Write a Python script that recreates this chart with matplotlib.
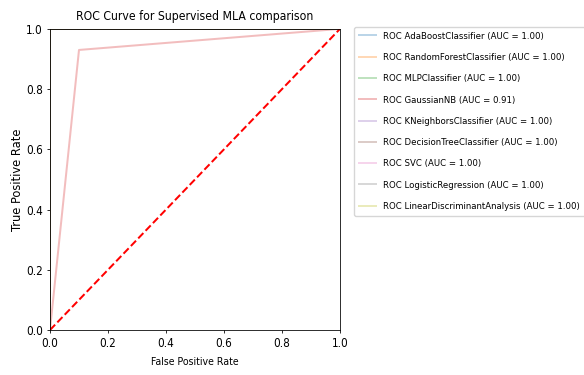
import matplotlib
matplotlib.use('Agg')
import matplotlib.pyplot as plt

# reference looks like a small default figure, squeezed sideways
plt.rcParams['font.family'] = ['DejaVu Sans']
plt.rcParams['font.stretch'] = 'condensed'
plt.rcParams['font.size'] = 7.5
plt.rcParams['axes.linewidth'] = 0.58
plt.rcParams['xtick.major.size'] = 2.5
plt.rcParams['ytick.major.size'] = 2.5
plt.rcParams['xtick.major.width'] = 0.58
plt.rcParams['ytick.major.width'] = 0.58

# ROC data per model
models = ['AdaBoostClassifier', 'RandomForestClassifier', 'MLPClassifier', 'GaussianNB',
          'KNeighborsClassifier', 'DecisionTreeClassifier', 'SVC', 'LogisticRegression',
          'LinearDiscriminantAnalysis']
aucs = [1.00, 1.00, 1.00, 0.91, 1.00, 1.00, 1.00, 1.00, 1.00]
fprs = [[0, 0, 1], [0, 0, 1], [0, 0, 1], [0, 0.10, 1], [0, 0, 1],
        [0, 0, 1], [0, 0, 1], [0, 0, 1], [0, 0, 1]]
tprs = [[0, 1, 1], [0, 1, 1], [0, 1, 1], [0, 0.93, 1], [0, 1, 1],
        [0, 1, 1], [0, 1, 1], [0, 1, 1], [0, 1, 1]]

fig = plt.figure(figsize=(5.84, 3.75), dpi=100)
ax = fig.add_axes([0.0856, 0.12, 0.4966, 0.803])

for name, auc, fpr, tpr in zip(models, aucs, fprs, tprs):
    ax.plot(fpr, tpr, lw=1.44, alpha=0.3, label='ROC %s (AUC = %0.2f)' % (name, auc))

ax.plot([0, 1], [0, 1], linestyle='--', lw=1.44, color='r')
ax.set_xlim(0, 1)
ax.set_ylim(0, 1)
ax.tick_params(labelsize=8.4, pad=2.5)
ax.set_xlabel('False Positive Rate', fontsize=7.6, labelpad=5)
ax.set_ylabel('True Positive Rate', fontsize=9.2, labelpad=1.5)
ax.set_title('ROC Curve for Supervised MLA comparison', fontsize=8.7, pad=6.5)
fig.legend(loc='upper left', bbox_to_anchor=(0.606, 0.928), borderaxespad=0,
           fontsize=6.8, labelspacing=1.3, handlelength=1.8, borderpad=0.5)

plt.savefig('out.png')
